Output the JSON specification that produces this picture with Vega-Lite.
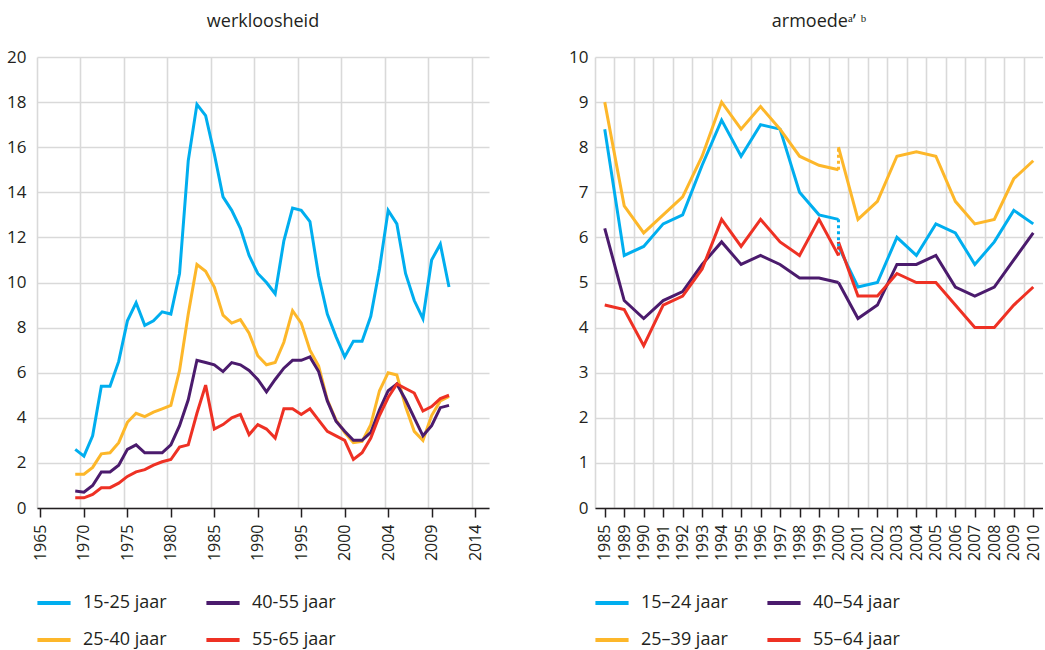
{
  "$schema": "https://vega.github.io/schema/vega-lite/v6.json",
  "padding": {"left": 6, "top": 13, "right": 0, "bottom": 0},
  "background": "white",
  "config": {
    "view": {"stroke": null},
    "font": "Open Sans",
    "axis": {"labelFont": "Open Sans", "labelColor": "#231f20", "titleFont": "Open Sans"},
    "legend": {"labelFont": "Open Sans"},
    "title": {"font": "Open Sans", "fontSize": 18, "fontWeight": "normal", "color": "#231f20", "frame": "group", "offset": 17}
  },
  "datasets": {
    "werk": [
      {"jaar": 1969, "15-25 jaar": 2.6, "25-40 jaar": 1.5, "40-55 jaar": 0.75, "55-65 jaar": 0.45},
      {"jaar": 1970, "15-25 jaar": 2.3, "25-40 jaar": 1.5, "40-55 jaar": 0.7, "55-65 jaar": 0.45},
      {"jaar": 1971, "15-25 jaar": 3.2, "25-40 jaar": 1.8, "40-55 jaar": 1.0, "55-65 jaar": 0.6},
      {"jaar": 1972, "15-25 jaar": 5.4, "25-40 jaar": 2.4, "40-55 jaar": 1.6, "55-65 jaar": 0.9},
      {"jaar": 1973, "15-25 jaar": 5.4, "25-40 jaar": 2.45, "40-55 jaar": 1.6, "55-65 jaar": 0.9},
      {"jaar": 1974, "15-25 jaar": 6.5, "25-40 jaar": 2.9, "40-55 jaar": 1.9, "55-65 jaar": 1.1},
      {"jaar": 1975, "15-25 jaar": 8.3, "25-40 jaar": 3.8, "40-55 jaar": 2.6, "55-65 jaar": 1.4},
      {"jaar": 1976, "15-25 jaar": 9.1, "25-40 jaar": 4.2, "40-55 jaar": 2.8, "55-65 jaar": 1.6},
      {"jaar": 1977, "15-25 jaar": 8.1, "25-40 jaar": 4.05, "40-55 jaar": 2.45, "55-65 jaar": 1.7},
      {"jaar": 1978, "15-25 jaar": 8.3, "25-40 jaar": 4.25, "40-55 jaar": 2.45, "55-65 jaar": 1.9},
      {"jaar": 1979, "15-25 jaar": 8.7, "25-40 jaar": 4.4, "40-55 jaar": 2.45, "55-65 jaar": 2.05},
      {"jaar": 1980, "15-25 jaar": 8.6, "25-40 jaar": 4.55, "40-55 jaar": 2.8, "55-65 jaar": 2.15},
      {"jaar": 1981, "15-25 jaar": 10.4, "25-40 jaar": 6.1, "40-55 jaar": 3.65, "55-65 jaar": 2.7},
      {"jaar": 1982, "15-25 jaar": 15.4, "25-40 jaar": 8.6, "40-55 jaar": 4.8, "55-65 jaar": 2.8},
      {"jaar": 1983, "15-25 jaar": 17.9, "25-40 jaar": 10.8, "40-55 jaar": 6.55, "55-65 jaar": 4.2},
      {"jaar": 1984, "15-25 jaar": 17.4, "25-40 jaar": 10.5, "40-55 jaar": 6.45, "55-65 jaar": 5.45},
      {"jaar": 1985, "15-25 jaar": 15.7, "25-40 jaar": 9.8, "40-55 jaar": 6.35, "55-65 jaar": 3.5},
      {"jaar": 1986, "15-25 jaar": 13.8, "25-40 jaar": 8.55, "40-55 jaar": 6.05, "55-65 jaar": 3.7},
      {"jaar": 1987, "15-25 jaar": 13.2, "25-40 jaar": 8.2, "40-55 jaar": 6.45, "55-65 jaar": 4.0},
      {"jaar": 1988, "15-25 jaar": 12.4, "25-40 jaar": 8.35, "40-55 jaar": 6.35, "55-65 jaar": 4.15},
      {"jaar": 1989, "15-25 jaar": 11.2, "25-40 jaar": 7.75, "40-55 jaar": 6.1, "55-65 jaar": 3.25},
      {"jaar": 1990, "15-25 jaar": 10.4, "25-40 jaar": 6.75, "40-55 jaar": 5.7, "55-65 jaar": 3.7},
      {"jaar": 1991, "15-25 jaar": 10.0, "25-40 jaar": 6.35, "40-55 jaar": 5.15, "55-65 jaar": 3.5},
      {"jaar": 1992, "15-25 jaar": 9.5, "25-40 jaar": 6.45, "40-55 jaar": 5.7, "55-65 jaar": 3.1},
      {"jaar": 1993, "15-25 jaar": 11.85, "25-40 jaar": 7.35, "40-55 jaar": 6.2, "55-65 jaar": 4.4},
      {"jaar": 1994, "15-25 jaar": 13.3, "25-40 jaar": 8.75, "40-55 jaar": 6.55, "55-65 jaar": 4.4},
      {"jaar": 1995, "15-25 jaar": 13.2, "25-40 jaar": 8.2, "40-55 jaar": 6.55, "55-65 jaar": 4.15},
      {"jaar": 1996, "15-25 jaar": 12.7, "25-40 jaar": 7.0, "40-55 jaar": 6.7, "55-65 jaar": 4.4},
      {"jaar": 1997, "15-25 jaar": 10.3, "25-40 jaar": 6.3, "40-55 jaar": 6.05, "55-65 jaar": 3.9},
      {"jaar": 1998, "15-25 jaar": 8.6, "25-40 jaar": 4.8, "40-55 jaar": 4.75, "55-65 jaar": 3.4},
      {"jaar": 1999, "15-25 jaar": 7.6, "25-40 jaar": 3.9, "40-55 jaar": 3.85, "55-65 jaar": 3.2},
      {"jaar": 2000, "15-25 jaar": 6.7, "25-40 jaar": 3.35, "40-55 jaar": 3.4, "55-65 jaar": 3.0},
      {"jaar": 2001, "15-25 jaar": 7.4, "25-40 jaar": 2.9, "40-55 jaar": 3.0, "55-65 jaar": 2.15},
      {"jaar": 2002, "15-25 jaar": 7.4, "25-40 jaar": 2.95, "40-55 jaar": 3.0, "55-65 jaar": 2.45},
      {"jaar": 2003, "15-25 jaar": 8.5, "25-40 jaar": 3.7, "40-55 jaar": 3.35, "55-65 jaar": 3.1},
      {"jaar": 2004, "15-25 jaar": 10.6, "25-40 jaar": 5.2, "40-55 jaar": 4.35, "55-65 jaar": 4.1},
      {"jaar": 2005, "15-25 jaar": 13.2, "25-40 jaar": 6.0, "40-55 jaar": 5.2, "55-65 jaar": 4.9},
      {"jaar": 2006, "15-25 jaar": 12.6, "25-40 jaar": 5.9, "40-55 jaar": 5.5, "55-65 jaar": 5.5},
      {"jaar": 2007, "15-25 jaar": 10.4, "25-40 jaar": 4.5, "40-55 jaar": 4.8, "55-65 jaar": 5.3},
      {"jaar": 2008, "15-25 jaar": 9.2, "25-40 jaar": 3.4, "40-55 jaar": 4.0, "55-65 jaar": 5.1},
      {"jaar": 2009, "15-25 jaar": 8.4, "25-40 jaar": 3.0, "40-55 jaar": 3.2, "55-65 jaar": 4.3},
      {"jaar": 2010, "15-25 jaar": 11.0, "25-40 jaar": 4.1, "40-55 jaar": 3.65, "55-65 jaar": 4.5},
      {"jaar": 2011, "15-25 jaar": 11.7, "25-40 jaar": 4.75, "40-55 jaar": 4.45, "55-65 jaar": 4.85},
      {"jaar": 2012, "15-25 jaar": 9.8, "25-40 jaar": 4.95, "40-55 jaar": 4.55, "55-65 jaar": 5.0}
    ],
    "armoede": [
      {"jaar": "1985", "reeks": "oud", "15–24 jaar": 8.4, "25–39 jaar": 9.0, "40–54 jaar": 6.2, "55–64 jaar": 4.5},
      {"jaar": "1989", "reeks": "oud", "15–24 jaar": 5.6, "25–39 jaar": 6.7, "40–54 jaar": 4.6, "55–64 jaar": 4.4},
      {"jaar": "1990", "reeks": "oud", "15–24 jaar": 5.8, "25–39 jaar": 6.1, "40–54 jaar": 4.2, "55–64 jaar": 3.6},
      {"jaar": "1991", "reeks": "oud", "15–24 jaar": 6.3, "25–39 jaar": 6.5, "40–54 jaar": 4.6, "55–64 jaar": 4.5},
      {"jaar": "1992", "reeks": "oud", "15–24 jaar": 6.5, "25–39 jaar": 6.9, "40–54 jaar": 4.8, "55–64 jaar": 4.7},
      {"jaar": "1993", "reeks": "oud", "15–24 jaar": 7.6, "25–39 jaar": 7.8, "40–54 jaar": 5.4, "55–64 jaar": 5.3},
      {"jaar": "1994", "reeks": "oud", "15–24 jaar": 8.6, "25–39 jaar": 9.0, "40–54 jaar": 5.9, "55–64 jaar": 6.4},
      {"jaar": "1995", "reeks": "oud", "15–24 jaar": 7.8, "25–39 jaar": 8.4, "40–54 jaar": 5.4, "55–64 jaar": 5.8},
      {"jaar": "1996", "reeks": "oud", "15–24 jaar": 8.5, "25–39 jaar": 8.9, "40–54 jaar": 5.6, "55–64 jaar": 6.4},
      {"jaar": "1997", "reeks": "oud", "15–24 jaar": 8.4, "25–39 jaar": 8.4, "40–54 jaar": 5.4, "55–64 jaar": 5.9},
      {"jaar": "1998", "reeks": "oud", "15–24 jaar": 7.0, "25–39 jaar": 7.8, "40–54 jaar": 5.1, "55–64 jaar": 5.6},
      {"jaar": "1999", "reeks": "oud", "15–24 jaar": 6.5, "25–39 jaar": 7.6, "40–54 jaar": 5.1, "55–64 jaar": 6.4},
      {"jaar": "2000", "reeks": "oud", "15–24 jaar": 6.4, "25–39 jaar": 7.5, "40–54 jaar": 5.0, "55–64 jaar": 5.6},
      {"jaar": "2000", "reeks": "nieuw", "15–24 jaar": 5.8, "25–39 jaar": 8.0, "40–54 jaar": 5.0, "55–64 jaar": 5.9},
      {"jaar": "2001", "reeks": "nieuw", "15–24 jaar": 4.9, "25–39 jaar": 6.4, "40–54 jaar": 4.2, "55–64 jaar": 4.7},
      {"jaar": "2002", "reeks": "nieuw", "15–24 jaar": 5.0, "25–39 jaar": 6.8, "40–54 jaar": 4.5, "55–64 jaar": 4.7},
      {"jaar": "2003", "reeks": "nieuw", "15–24 jaar": 6.0, "25–39 jaar": 7.8, "40–54 jaar": 5.4, "55–64 jaar": 5.2},
      {"jaar": "2004", "reeks": "nieuw", "15–24 jaar": 5.6, "25–39 jaar": 7.9, "40–54 jaar": 5.4, "55–64 jaar": 5.0},
      {"jaar": "2005", "reeks": "nieuw", "15–24 jaar": 6.3, "25–39 jaar": 7.8, "40–54 jaar": 5.6, "55–64 jaar": 5.0},
      {"jaar": "2006", "reeks": "nieuw", "15–24 jaar": 6.1, "25–39 jaar": 6.8, "40–54 jaar": 4.9, "55–64 jaar": 4.5},
      {"jaar": "2007", "reeks": "nieuw", "15–24 jaar": 5.4, "25–39 jaar": 6.3, "40–54 jaar": 4.7, "55–64 jaar": 4.0},
      {"jaar": "2008", "reeks": "nieuw", "15–24 jaar": 5.9, "25–39 jaar": 6.4, "40–54 jaar": 4.9, "55–64 jaar": 4.0},
      {"jaar": "2009", "reeks": "nieuw", "15–24 jaar": 6.6, "25–39 jaar": 7.3, "40–54 jaar": 5.5, "55–64 jaar": 4.5},
      {"jaar": "2010", "reeks": "nieuw", "15–24 jaar": 6.3, "25–39 jaar": 7.7, "40–54 jaar": 6.1, "55–64 jaar": 4.9}
    ]
  },
  "resolve": {"scale": {"color": "independent"}},
  "spacing": 79,
  "hconcat": [
    {
      "title": {"text": "werkloosheid"},
      "width": 452,
      "height": 451,
      "data": {"name": "werk"},
      "transform": [
        {"fold": ["15-25 jaar", "25-40 jaar", "40-55 jaar", "55-65 jaar"], "as": ["groep", "waarde"]}
      ],
      "resolve": {"axis": {"x": "independent"}},
      "layer": [
        {
          "mark": {"type": "line", "strokeOpacity": 0},
          "encoding": {
            "x": {"field": "jaar", "type": "quantitative",
                  "scale": {"domain": [1964.6, 2016.6], "nice": false, "zero": false},
                  "axis": {"orient": "bottom", "title": null, "values": [1964.6, 1969.6, 1974.6, 1979.6, 1984.6, 1989.6, 1994.6, 1999.6, 2004.6, 2009.6, 2014.6],
                           "grid": true, "gridColor": "#d9d9d9", "gridWidth": 1.6, "labels": false, "ticks": false, "domain": false}},
            "y": {"field": "waarde", "type": "quantitative",
                  "scale": {"domain": [0, 20], "nice": false},
                  "axis": {"title": null, "values": [0, 2, 4, 6, 8, 10, 12, 14, 16, 18, 20], "grid": true, "gridColor": "#d9d9d9", "gridWidth": 1.6,
                           "domain": false, "ticks": false, "labelFontSize": 17, "labelPadding": 11}},
            "detail": {"field": "groep", "type": "nominal"}
          }
        },
        {
          "mark": {"type": "line", "strokeWidth": 3, "strokeJoin": "miter"},
          "encoding": {
            "x": {"field": "jaar", "type": "quantitative",
                  "axis": {"orient": "bottom", "title": null, "values": [1965, 1970, 1975, 1980, 1985, 1990, 1995, 2000, 2005, 2010, 2015],
                           "labelExpr": "datum.value <= 2000 ? datum.value : datum.value - 1",
                           "grid": false, "domain": true, "domainColor": "#231f20", "domainWidth": 1.5,
                           "ticks": true, "tickColor": "#231f20", "tickWidth": 1.5, "tickSize": 9,
                           "labelAngle": 270, "labelAlign": "right", "labelBaseline": "middle", "labelFontSize": 16, "labelPadding": 7}},
            "y": {"field": "waarde", "type": "quantitative",
                  "axis": {"title": null, "values": [0, 2, 4, 6, 8, 10, 12, 14, 16, 18, 20], "grid": true, "gridColor": "#d9d9d9", "gridWidth": 1.6,
                           "domain": false, "ticks": false, "labelFontSize": 17, "labelPadding": 11}},
            "color": {"field": "groep", "type": "nominal",
                      "scale": {"domain": ["15-25 jaar", "25-40 jaar", "40-55 jaar", "55-65 jaar"],
                                "range": ["#00aeef", "#fdb72a", "#4b1b6d", "#ee3124"]},
                      "legend": {"orient": "none", "legendX": -2, "legendY": 527, "columns": 2, "title": null,
                                 "symbolType": "stroke", "symbolStrokeWidth": 4, "symbolSize": 1100,
                                 "labelFontSize": 18, "labelColor": "#231f20", "labelOffset": 10,
                                 "rowPadding": 9, "columnPadding": 31}}
          }
        }
      ]
    },
    {
      "title": {"text": "armoedeᵃ’ ᵇ"},
      "width": 448,
      "height": 451,
      "data": {"name": "armoede"},
      "transform": [
        {"fold": ["15–24 jaar", "25–39 jaar", "40–54 jaar", "55–64 jaar"], "as": ["groep", "waarde"]}
      ],
      "resolve": {"axis": {"x": "independent"}},
      "layer": [
        {
          "mark": {"type": "line", "strokeOpacity": 0},
          "encoding": {
            "x": {"field": "jaar", "type": "ordinal",
                  "scale": {"type": "point", "padding": 0.5, "domain": ["1985", "1989", "1990", "1991", "1992", "1993", "1994", "1995", "1996", "1997", "1998", "1999", "2000", "2001", "2002", "2003", "2004", "2005", "2006", "2007", "2008", "2009", "2010"]},
                  "axis": {"orient": "bottom", "title": null, "grid": true, "gridColor": "#d9d9d9", "gridWidth": 1.6, "tickOffset": -9.74,
                           "labels": false, "ticks": false, "domain": false}},
            "y": {"field": "waarde", "type": "quantitative",
                  "scale": {"domain": [0, 10], "nice": false},
                  "axis": {"title": null, "values": [0, 1, 2, 3, 4, 5, 6, 7, 8, 9, 10], "grid": true, "gridColor": "#d9d9d9", "gridWidth": 1.6,
                           "domain": false, "ticks": false, "labelFontSize": 17, "labelPadding": 7}},
            "detail": {"field": "groep", "type": "nominal"}
          }
        },
        {
          "mark": {"type": "line", "strokeWidth": 3, "strokeJoin": "miter"},
          "encoding": {
            "x": {"field": "jaar", "type": "ordinal",
                  "axis": {"orient": "bottom", "title": null, "grid": false, "domain": true, "domainColor": "#231f20", "domainWidth": 1.5,
                           "ticks": true, "tickColor": "#231f20", "tickWidth": 1.5, "tickSize": 9,
                           "labelAngle": 270, "labelAlign": "right", "labelBaseline": "middle", "labelFontSize": 16, "labelPadding": 7}},
            "y": {"field": "waarde", "type": "quantitative",
                  "axis": {"title": null, "values": [0, 1, 2, 3, 4, 5, 6, 7, 8, 9, 10], "grid": true, "gridColor": "#d9d9d9", "gridWidth": 1.6,
                           "domain": false, "ticks": false, "labelFontSize": 17, "labelPadding": 7}},
            "detail": {"field": "reeks", "type": "nominal"},
            "color": {"field": "groep", "type": "nominal",
                      "scale": {"domain": ["15–24 jaar", "25–39 jaar", "40–54 jaar", "55–64 jaar"],
                                "range": ["#00aeef", "#fdb72a", "#4b1b6d", "#ee3124"]},
                      "legend": {"orient": "none", "legendX": -2, "legendY": 527, "columns": 2, "title": null,
                                 "symbolType": "stroke", "symbolStrokeWidth": 4, "symbolSize": 1100,
                                 "labelFontSize": 18, "labelColor": "#231f20", "labelOffset": 10,
                                 "rowPadding": 9, "columnPadding": 31}}
          }
        },
        {
          "transform": [{"filter": "datum.jaar == '2000'"}],
          "mark": {"type": "line", "strokeWidth": 3, "strokeDash": [3, 3]},
          "encoding": {
            "x": {"field": "jaar", "type": "ordinal", "axis": null},
            "y": {"field": "waarde", "type": "quantitative"},
            "color": {"field": "groep", "type": "nominal"}
          }
        }
      ]
    }
  ]
}
